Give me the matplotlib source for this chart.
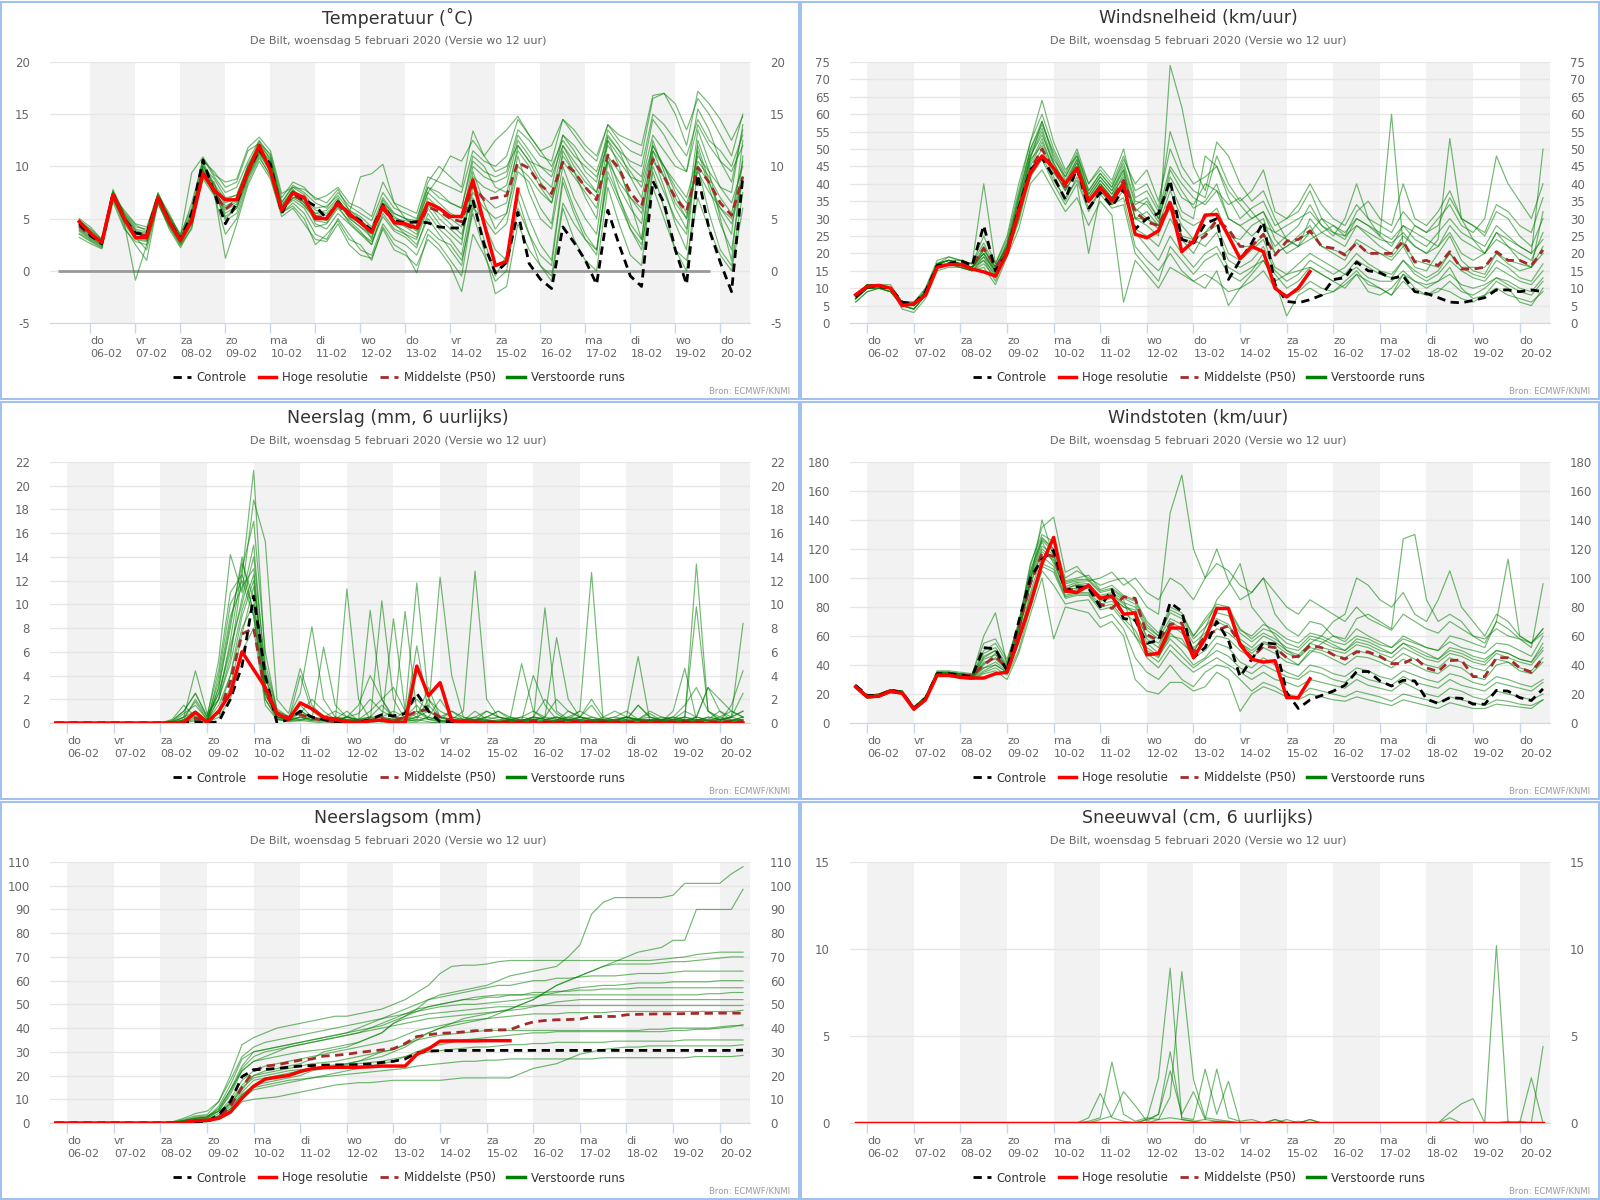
import numpy as np
import matplotlib.pyplot as plt
from matplotlib.lines import Line2D
from matplotlib.patches import Rectangle
from matplotlib.ticker import FormatStrFormatter

plt.rcParams['font.family'] = 'DejaVu Sans'
plt.rcParams['axes.unicode_minus'] = False

# tijdstappen (6 uurlijks) in dagen vanaf do 06-02 00 UTC, eerste stap 05-02 18 UTC
times = np.arange(60) * 0.25 - 0.25

day_names = ['do', 'vr', 'za', 'zo', 'ma', 'di', 'wo', 'do', 'vr', 'za', 'zo', 'ma', 'di', 'wo', 'do']
day_dates = ['06-02', '07-02', '08-02', '09-02', '10-02', '11-02', '12-02', '13-02',
             '14-02', '15-02', '16-02', '17-02', '18-02', '19-02', '20-02']

subtitle = 'De Bilt, woensdag 5 februari 2020 (Versie wo 12 uur)'
legend_labels = ['Controle', 'Hoge resolutie', 'Middelste (P50)', 'Verstoorde runs']

# ---------------- Temperatuur ----------------
temp_control = [4.5, 3.4, 2.6, 7.4,  5.0, 3.6, 3.5, 7.1,  4.8, 3.0, 5.5, 10.6,  7.5, 4.5, 6.5, 9.5,
                11.6, 10.2, 5.5, 7.6,  6.8, 6.2, 5.0, 6.6,  5.5, 4.8, 3.9, 6.3,  4.8, 4.6, 4.7, 4.6,
                4.2, 4.1, 4.1, 6.8,  2.5, -0.2, 0.8, 5.6,  0.7, -0.8, -1.7, 4.2,  2.7, 1.0, -1.3, 5.8,
                2.5, -0.5, -1.5, 8.6,  6.5, 2.0, -1.3, 9.2,  4.0, 0.8, -2.0, 9.0]
temp_hires = [4.7, 3.6, 2.7, 7.3,  5.0, 3.2, 3.2, 7.0,  4.7, 2.9, 4.8, 9.3,  7.7, 6.8, 6.8, 9.5,
              12.0, 9.6, 5.8, 7.5,  7.0, 5.0, 5.0, 6.5,  5.5, 4.6, 3.7, 6.2,  4.6, 4.5, 4.1, 6.5,
              6.0, 5.2, 5.2, 8.7,  4.5, 0.5, 0.9, 7.8]
temp_p50 = [4.3, 3.3, 2.8, 7.2,  5.0, 3.4, 3.4, 6.9,  4.8, 3.0, 5.0, 9.5,  7.5, 5.9, 6.8, 9.5,
            11.6, 9.8, 5.9, 7.2,  6.7, 5.2, 5.1, 6.3,  5.3, 4.7, 3.8, 5.9,  4.7, 4.4, 3.9, 6.1,
            5.7, 5.0, 4.7, 8.2,  6.8, 7.0, 7.2, 10.4,  9.8, 8.2, 7.4, 10.4,  9.5, 8.0, 6.8, 11.1,
            9.8, 7.5, 6.2, 10.7,  9.0, 7.0, 5.7, 9.9,  8.5, 6.5, 5.3, 9.0]
temp_members = [
    [4.2, 3.5, 2.8, 7.0,  5.2, 3.8, 3.6, 6.8,  4.6, 2.8, 5.2, 10.2,  8.0, 6.5, 7.0, 9.8,  11.8, 10.5, 6.2, 7.8,
     6.5, 5.5, 5.8, 7.0,  5.0, 4.2, 3.5, 6.8,  5.2, 4.5, 3.8, 7.0,  6.0, 5.0, 4.2, 9.0,  8.0, 7.5, 8.2, 12.5,
     11.0, 9.0, 8.0, 13.0,  11.5, 9.5, 8.5, 13.5,  12.0, 10.0, 9.0, 14.5,  13.0, 11.0, 9.5, 15.5,  13.5, 10.5, 8.5, 13.5],
    [3.8, 3.0, 2.4, 7.5,  4.5, 3.0, 2.8, 7.2,  5.0, 3.2, 4.5, 9.0,  8.5, 5.0, 6.0, 9.0,  11.2, 9.5, 5.8, 7.0,
     7.2, 4.5, 4.0, 5.5,  4.5, 3.5, 2.5, 5.5,  4.0, 3.5, 2.5, 5.0,  3.5, 2.0, 0.5, 6.5,  3.0, -0.5, 1.5, 7.0,
     3.5, 0.5, -1.0, 6.0,  3.0, 1.0, 0.0, 8.0,  4.5, 1.5, 0.5, 9.5,  6.0, 2.0, 0.0, 10.0,  5.5, 2.0, 0.5, 7.5],
    [5.0, 4.2, 3.0, 7.8,  5.5, 4.2, 4.0, 7.5,  5.2, 3.5, 6.0, 10.8,  9.0, 7.5, 8.0, 10.5,  12.5, 11.0, 6.5, 8.2,
     7.5, 6.5, 6.0, 7.5,  6.2, 5.5, 4.8, 7.5,  6.0, 5.5, 5.0, 8.0,  7.5, 6.5, 6.0, 10.5,  9.5, 9.0, 9.5, 13.5,
     12.5, 11.0, 10.5, 14.5,  13.0, 11.5, 10.5, 14.0,  12.5, 11.5, 11.0, 16.5,  17.0, 15.0, 12.0, 17.2,  16.0, 14.5, 12.5, 14.8],
    [3.5, 2.8, 2.2, 6.8,  4.8, 3.2, 2.0, 6.5,  4.3, 2.5, 4.0, 9.5,  7.8, 4.8, 5.5, 8.8,  11.0, 9.0, 5.5, 6.5,
     5.5, 3.5, 3.0, 5.0,  3.5, 2.0, 1.5, 4.5,  3.0, 2.5, 1.5, 4.0,  3.0, 2.5, 1.0, 5.5,  2.0, -2.2, -1.5, 4.5,
     2.0, 0.5, -0.5, 6.5,  4.5, 3.0, 2.0, 9.0,  6.5, 4.0, 2.5, 8.0,  5.0, 2.0, 1.0, 7.0,  4.0, 1.5, 0.0, 6.0],
    [4.6, 3.8, 2.6, 7.2,  5.8, 4.5, 4.2, 7.3,  5.5, 3.3, 6.5, 10.5,  9.5, 8.0, 8.5, 11.5,  12.2, 11.2, 7.0, 8.5,
     8.0, 6.8, 7.2, 8.0,  6.5, 6.0, 5.2, 8.5,  6.5, 6.0, 5.5, 9.0,  8.5, 8.0, 7.5, 11.5,  10.5, 10.0, 11.0, 14.5,
     13.0, 11.5, 10.0, 12.5,  11.0, 10.0, 9.0, 12.0,  10.5, 9.0, 8.5, 13.0,  11.5, 10.0, 9.5, 14.0,  12.0, 10.5, 9.5, 12.0],
    [4.0, 3.2, 2.5, 7.0,  4.2, 2.5, 1.0, 6.6,  4.0, 2.2, 4.2, 8.8,  7.2, 3.5, 5.0, 8.5,  10.8, 9.2, 5.6, 6.2,
     5.0, 2.5, 3.5, 4.8,  3.0, 2.5, 1.0, 4.2,  2.5, 1.8, -0.2, 3.5,  2.5, 1.0, -0.5, 6.0,  5.0, 3.5, 4.5, 9.5,
     8.5, 6.0, 4.5, 11.5,  9.5, 7.0, 5.0, 12.5,  10.0, 6.5, 3.0, 11.0,  8.0, 4.5, 2.0, 12.5,  9.5, 5.0, 1.0, 11.0],
    [4.4, 3.6, 2.9, 7.6,  5.3, 3.9, 3.3, 7.4,  5.0, 3.0, 5.8, 10.0,  8.2, 6.2, 6.8, 10.2,  12.0, 10.8, 6.0, 7.5,
     6.2, 5.2, 4.8, 6.8,  5.5, 9.0, 9.3, 10.2,  6.5, 5.0, 4.5, 7.5,  9.0, 11.0, 10.5, 12.5,  11.0, 12.5, 13.5, 14.8,
     13.0, 11.5, 12.0, 14.5,  13.5, 12.0, 11.0, 14.0,  13.0, 12.5, 12.0, 16.8,  17.0, 16.0, 13.5, 16.5,  15.0, 13.0, 11.0, 15.0],
    [3.2, 2.6, 2.1, 6.6,  4.0, 2.8, 2.5, 6.4,  4.2, 2.4, 4.5, 9.0,  7.5, 1.2, 4.5, 8.2,  10.5, 8.8, 5.2, 6.0,
     4.5, 3.0, 2.8, 4.5,  2.5, 1.5, 1.2, 4.0,  2.0, 1.5, 0.5, 3.0,  2.0, 0.5, -2.0, 3.5,  1.5, -1.0, 0.0, 6.0,
     3.5, 1.5, 0.5, 8.5,  5.5, 3.0, 1.5, 10.5,  7.0, 4.0, 2.0, 10.0,  7.5, 5.0, 3.5, 11.5,  8.0, 4.5, 2.0, 9.0],
    [4.8, 4.0, 3.0, 7.4,  5.6, 4.4, 3.8, 7.0,  5.3, 3.4, 9.4, 10.9,  9.2, 8.5, 8.8, 11.8,  12.8, 11.5, 7.4, 8.0,
     7.8, 7.0, 6.5, 7.8,  5.8, 5.0, 3.0, 6.5,  5.5, 5.0, 4.8, 8.5,  10.0, 9.0, 8.0, 13.4,  11.0, 9.5, 10.0, 12.0,
     10.5, 10.0, 9.5, 13.0,  12.0, 10.5, 9.5, 12.8,  11.5, 10.5, 10.0, 15.0,  14.0, 12.5, 11.0, 14.5,  12.5, 11.5, 10.0, 13.0],
    [3.6, 2.9, 2.3, 6.9,  4.6, -0.9, 2.5, 6.9,  4.4, 2.6, 4.8, 9.8,  7.9, 5.5, 6.2, 9.2,  11.5, 9.8, 5.8, 6.8,
     6.0, 4.2, 4.5, 6.0,  4.8, 3.8, 2.5, 6.0,  4.5, 3.5, 3.0, 6.0,  4.5, 3.5, 2.5, 9.5,  6.5, 4.0, 5.5, 11.0,
     7.5, 5.0, 4.0, 10.0,  7.0, 5.0, 3.5, 11.0,  8.0, 6.0, 4.5, 12.5,  9.5, 6.5, 5.0, 13.5,  10.5, 8.0, 7.5, 14.0],
    [4.3, 3.4, 2.7, 7.2,  5.0, 3.5, 3.4, 7.0,  4.7, 2.9, 5.0, 9.6,  7.6, 6.0, 6.6, 9.4,  11.4, 10.0, 6.0, 7.3,
     6.6, 5.5, 5.3, 6.5,  5.2, 4.5, 3.6, 6.0,  4.8, 4.2, 3.5, 6.2,  5.5, 4.5, 3.5, 7.5,  6.0, 5.0, 5.5, 10.0,
     9.0, 7.5, 6.5, 10.5,  9.0, 7.5, 6.0, 11.0,  9.5, 7.0, 5.5, 10.5,  9.0, 7.0, 5.0, 10.0,  8.5, 6.0, 4.5, 8.5],
    [4.9, 3.9, 2.9, 7.6,  5.4, 4.0, 3.7, 7.2,  5.1, 3.2, 5.5, 10.0,  8.8, 7.0, 7.2, 10.0,  12.4, 10.6, 6.6, 8.0,
     7.3, 6.0, 6.2, 7.2,  5.8, 5.2, 4.2, 7.0,  5.5, 5.0, 4.2, 7.5,  6.5, 5.5, 5.0, 10.0,  9.0, 8.5, 9.0, 13.0,
     11.5, 10.0, 9.0, 12.0,  10.0, 8.5, 7.5, 12.5,  11.0, 9.5, 8.0, 12.0,  10.0, 8.5, 7.0, 11.0,  9.5, 8.0, 6.5, 10.0],
    [3.9, 3.1, 2.5, 7.1,  4.7, 3.3, 3.0, 6.7,  4.5, 2.7, 4.6, 9.2,  7.4, 5.2, 6.0, 9.0,  11.3, 9.6, 5.7, 7.0,
     6.3, 4.8, 4.6, 6.2,  4.6, 3.6, 2.8, 5.2,  3.8, 3.2, 2.2, 5.5,  4.0, 3.0, 1.5, 7.0,  4.5, 2.0, 1.0, 8.0,
     5.0, 2.5, 1.0, 9.0,  6.0, 3.5, 2.0, 9.5,  7.0, 4.5, 3.0, 11.5,  9.0, 6.0, 4.0, 12.0,  8.5, 5.5, 3.5, 12.5],
    [4.5, 3.7, 2.8, 7.3,  5.1, 3.6, 3.5, 7.1,  4.9, 3.1, 5.3, 10.4,  8.3, 6.8, 7.3, 10.0,  11.9, 10.3, 6.3, 7.7,
     6.9, 5.8, 5.5, 6.8,  5.4, 4.8, 4.0, 6.5,  5.0, 4.8, 4.5, 8.0,  7.0, 6.5, 6.0, 11.0,  10.0, 8.0, 7.5, 11.5,
     10.0, 8.0, 6.5, 11.0,  9.5, 8.0, 7.0, 10.5,  8.5, 7.0, 6.0, 11.5,  10.0, 8.0, 6.5, 9.5,  7.5, 6.0, 5.0, 9.0],
    [4.1, 3.3, 2.6, 7.0,  4.9, 3.1, 2.9, 6.8,  4.6, 2.8, 4.9, 9.7,  7.6, 5.8, 6.4, 9.3,  11.6, 10.0, 6.1, 7.4,
     6.5, 5.0, 4.9, 6.4,  5.1, 4.2, 3.2, 6.4,  4.4, 3.8, 3.2, 6.5,  5.0, 4.0, 3.0, 8.0,  7.0, 6.0, 6.5, 12.0,
     10.5, 8.5, 7.0, 12.0,  10.5, 9.0, 7.5, 13.0,  11.5, 9.0, 7.0, 12.0,  10.0, 7.5, 5.5, 10.5,  9.0, 7.0, 5.5, 10.5],
]
temp_zero_line = (-0.73, 13.77)

# ---------------- Windsnelheid ----------------
wind_control = [7.5, 10.3, 10.5, 10.0,  6.0, 5.5, 9.0, 16.5,  17.0, 18.0, 16.5, 28.0,  15.0, 20.0, 33.0, 44.0,
                47.5, 42.0, 35.5, 44.5,  33.0, 37.5, 33.5, 38.5,  27.0, 30.0, 31.5, 41.0,  24.0, 23.0, 28.5, 30.0,
                12.5, 18.0, 23.0, 29.0,  11.0, 6.2, 5.8, 6.7,  8.0, 12.5, 13.0, 17.5,  15.0, 14.5, 12.8, 13.5,
                9.0, 8.5, 7.3, 6.0,  5.8, 6.5, 7.3, 9.5,  9.5, 9.0, 9.5, 9.0]
wind_hires = [8.1, 10.5, 10.8, 10.0,  5.0, 5.5, 8.0, 16.0,  16.8, 16.8, 15.5, 14.7,  13.5, 20.0, 32.0, 43.0,
              48.0, 44.5, 40.0, 44.5,  35.0, 39.0, 35.0, 40.0,  25.5, 24.5, 26.5, 34.5,  20.5, 23.5, 31.0, 31.2,
              25.0, 18.5, 22.0, 20.5,  10.0, 7.5, 10.0, 14.8]
wind_p50 = [7.5, 10.3, 10.6, 10.0,  5.8, 5.5, 8.5, 16.3,  17.0, 17.5, 16.5, 21.5,  16.0, 21.0, 33.0, 44.0,
            50.0, 44.0, 39.0, 44.0,  35.0, 38.5, 35.5, 41.0,  32.0, 29.0, 28.0, 35.0,  24.0, 23.0, 25.0, 29.5,
            27.0, 22.0, 22.0, 25.5,  19.5, 23.5, 24.0, 26.5,  22.0, 21.5, 19.5, 23.0,  20.0, 20.0, 20.0, 23.5,
            17.5, 18.0, 16.5, 20.5,  15.5, 15.5, 16.0, 20.5,  18.0, 18.0, 16.5, 21.0]
wind_members = [
    [7, 10, 11, 10,  6, 5, 9, 17,  18, 17, 16, 22,  15, 22, 35, 48,  55, 45, 40, 46,  36, 41, 37, 42,  30, 30, 28, 38,
     30, 28, 30, 33,  25, 24, 28, 30,  20, 22, 25, 28,  22, 20, 18, 24,  22, 20, 18, 22,  16, 15, 20, 25,  18, 15, 14, 20,
     17, 15, 16, 22],
    [8, 11, 10, 9,  5, 4, 8, 16,  17, 17, 16, 18,  14, 20, 30, 44,  50, 42, 35, 42,  33, 38, 34, 36,  22, 18, 15, 20,
     15, 12, 14, 12,  9, 10, 12, 15,  10, 8, 9, 12,  10, 9, 12, 15,  11, 10, 8, 12,  9, 8, 10, 9,  7, 6, 8, 10,
     8, 7, 6, 9],
    [7, 10, 11, 11,  6, 6, 10, 18,  19, 18, 17, 25,  17, 24, 38, 52,  60, 50, 43, 50,  40, 44, 40, 48,  38, 40, 33, 55,
     45, 40, 42, 45,  36, 30, 33, 35,  28, 30, 32, 38,  30, 26, 24, 30,  28, 25, 22, 28,  24, 22, 26, 30,  26, 24, 22, 28,
     25, 22, 20, 50],
    [6, 9, 10, 10,  4, 3, 7, 15,  16, 16, 15, 16,  11, 19, 27, 40,  44, 38, 32, 36,  28, 35, 31, 6,  18, 14, 10, 16,
     14, 12, 10, 15,  5, 10, 14, 18,  12, 2, 8, 10,  8, 9, 11, 14,  9, 8, 10, 14,  12, 10, 12, 16,  10, 7, 8, 12,
     10, 6, 5, 10],
    [8, 11, 11, 10,  6, 5, 9, 17,  18, 17, 16, 20,  15, 23, 33, 47,  58, 48, 41, 47,  37, 42, 38, 44,  30, 28, 25, 74,
     62, 45, 38, 52,  48, 40, 35, 38,  30, 24, 22, 26,  30, 28, 25, 32,  35, 30, 28, 40,  30, 28, 32, 38,  30, 28, 25, 32,
     30, 25, 22, 30],
    [7, 10, 10, 9,  5, 4, 8, 16,  17, 16, 15, 19,  13, 21, 31, 45,  52, 44, 38, 44,  35, 40, 36, 40,  27, 25, 22, 30,
     24, 20, 26, 28,  20, 18, 21, 24,  16, 14, 17, 20,  18, 16, 14, 18,  16, 14, 13, 18,  14, 12, 14, 18,  15, 13, 12, 16,
     14, 12, 11, 15],
    [7, 11, 11, 10,  6, 5, 9, 17,  18, 17, 16, 21,  16, 22, 36, 49,  56, 46, 40, 46,  37, 42, 38, 45,  34, 36, 30, 40,
     32, 30, 48, 45,  38, 34, 30, 32,  24, 20, 22, 30,  26, 24, 22, 28,  25, 22, 20, 25,  22, 20, 24, 53,  30, 24, 20, 26,
     22, 18, 16, 32],
    [6, 9, 10, 9,  5, 4, 8, 16,  17, 16, 15, 18,  12, 20, 29, 42,  47, 40, 34, 40,  20, 37, 33, 34,  20, 16, 12, 22,
     18, 14, 18, 20,  14, 12, 15, 20,  14, 10, 12, 16,  14, 12, 10, 14,  12, 10, 8, 14,  10, 8, 9, 12,  9, 8, 10, 13,
     11, 9, 8, 12],
    [8, 11, 11, 10,  6, 5, 10, 17,  19, 18, 17, 40,  17, 25, 40, 52,  64, 52, 44, 48,  40, 45, 41, 50,  36, 38, 32, 45,
     40, 36, 34, 38,  30, 28, 25, 28,  22, 25, 28, 34,  28, 25, 30, 40,  30, 25, 60, 22,  28, 26, 30, 34,  28, 26, 30, 48,
     40, 35, 30, 40],
    [7, 10, 10, 10,  6, 5, 9, 17,  18, 17, 16, 20,  14, 21, 33, 46,  53, 44, 38, 44,  35, 40, 36, 43,  30, 32, 28, 35,
     28, 24, 22, 26,  18, 16, 18, 22,  15, 12, 14, 18,  16, 14, 16, 20,  17, 15, 14, 18,  15, 13, 15, 20,  16, 14, 13, 18,
     16, 13, 12, 17],
    [7, 10, 11, 10,  5, 5, 8, 17,  17, 17, 16, 20,  15, 21, 34, 47,  51, 43, 39, 45,  35, 40, 36, 41,  33, 30, 27, 33,
     25, 24, 26, 30,  26, 22, 22, 25,  20, 22, 24, 26,  22, 21, 20, 23,  20, 20, 19, 23,  18, 17, 16, 20,  16, 16, 16, 20,
     18, 17, 16, 20],
    [8, 11, 11, 10,  6, 6, 9, 17,  18, 17, 16, 19,  15, 22, 36, 50,  57, 49, 42, 49,  38, 43, 39, 46,  35, 34, 29, 44,
     38, 33, 35, 40,  30, 28, 30, 32,  26, 28, 30, 32,  28, 26, 25, 28,  26, 24, 23, 26,  22, 20, 22, 26,  20, 18, 20, 24,
     22, 20, 18, 26],
    [7, 10, 10, 9,  5, 4, 8, 16,  17, 16, 15, 17,  13, 20, 30, 43,  48, 41, 36, 41,  32, 38, 34, 38,  26, 22, 18, 25,
     20, 16, 20, 22,  16, 14, 16, 18,  12, 14, 15, 16,  14, 12, 14, 16,  13, 12, 12, 15,  12, 11, 12, 14,  11, 10, 11, 13,
     12, 10, 9, 13],
    [7, 10, 11, 10,  6, 5, 9, 17,  18, 17, 16, 21,  16, 22, 34, 48,  54, 46, 40, 47,  36, 41, 37, 44,  32, 35, 30, 42,
     36, 34, 40, 38,  34, 36, 32, 28,  26, 24, 22, 24,  26, 28, 26, 30,  28, 26, 24, 28,  26, 24, 22, 28,  24, 22, 20, 26,
     24, 22, 20, 24],
    [8, 11, 11, 10,  6, 5, 9, 17,  18, 18, 17, 23,  16, 23, 37, 50,  58, 47, 42, 48,  38, 43, 39, 47,  40, 44, 35, 50,
     42, 38, 36, 48,  40, 35, 38, 44,  32, 30, 34, 40,  34, 30, 28, 34,  30, 28, 26, 32,  28, 26, 28, 36,  30, 28, 26, 34,
     32, 28, 26, 36],
]

# ---------------- Neerslag (6 uurlijks) ----------------
prec_control = [0, 0, 0, 0,  0, 0, 0, 0,  0, 0, 0, 0,  0.1, 0, 0.1, 2.0,  4.8, 10.7, 4.0, 0.0,
                0.3, 1.0, 0.5, 0.3,  0.1, 0.05, 0.05, 0.3,  0.7, 0.6, 0.8, 2.5,  1.0, 0.1, 0.1, 0.05,
                0, 0.05, 0, 0,  0, 0, 0.05, 0,  0, 0, 0, 0.05,  0, 0, 0, 0,  0, 0, 0.05, 0,  0, 0, 0, 0]
prec_hires = [0, 0, 0, 0,  0, 0, 0, 0,  0, 0, 0, 0.05,  0.9, 0.05, 1.0, 2.5,  6.0, 4.5, 3.0, 0.8,
              0.3, 1.7, 1.2, 0.5,  0.3, 0.1, 0, 0.2,  0.25, 0.05, 0.05, 4.8,  2.3, 3.4, 0.2, 0.1,
              0.05, 0, 0, 0,  0, 0, 0, 0,  0, 0, 0, 0,  0, 0, 0, 0,  0, 0, 0, 0,  0, 0, 0, 0]
prec_p50 = [0, 0, 0, 0,  0, 0, 0, 0,  0, 0, 0, 0.05,  0.4, 0.1, 0.8, 3.5,  7.5, 8.0, 2.5, 0.8,
            0.5, 0.7, 0.4, 0.2,  0.1, 0.1, 0.1, 0.2,  0.3, 0.2, 0.5, 1.0,  1.1, 0.5, 0.2, 0.1,
            0.1, 0.1, 0.1, 0.1,  0.1, 0.2, 0.1, 0.1,  0.1, 0.2, 0.1, 0.1,  0.1, 0.1, 0.1, 0.1,
            0.1, 0.1, 0.1, 0.1,  0.1, 0.1, 0.1, 0.1]
prec_members = [
    [0, 0, 0, 0,  0, 0, 0, 0,  0, 0, 0.3, 1.5,  0.5, 0.2, 3.0, 8.0,  14.0, 9.0, 2.0, 0.5,  0.3, 1.0, 0.5, 0.2,
     0.1, 11.3, 2.0, 0.3,  0.1, 0, 0.5, 1.5,  0.3, 0.1, 0, 0,  0.2, 0.5, 1.0, 0.3,  0, 0.5, 2.0, 0.8,
     0.2, 0.5, 1.5, 0.2,  0, 0, 0.3, 0.8,  0.2, 0, 0, 0.5,  3.0, 1.0, 0.2, 0.5],
    [0, 0, 0, 0,  0, 0, 0, 0,  0, 0, 0.1, 0.5,  4.4, 0.8, 2.0, 5.5,  12.4, 21.3, 5.0, 1.2,  0.5, 2.5, 8.1, 2.0,
     0.5, 0.2, 0.1, 0.3,  0.5, 0.2, 0.1, 0.3,  0.1, 0, 0, 0.2,  1.0, 0.3, 0.1, 0,  0, 0.2, 9.7, 1.0,
     0.3, 0.5, 0.2, 0.1,  0, 0.3, 1.5, 0.5,  0.2, 0.1, 0.3, 13.4,  1.0, 0.2, 0.5, 1.0],
    [0, 0, 0, 0,  0, 0, 0, 0,  0, 0, 0.2, 1.0,  2.5, 0.5, 5.3, 14.2,  11.0, 18.8, 15.3, 2.0,  0.8, 4.6, 1.5, 0.5,
     0.3, 1.0, 0.2, 9.5,  2.0, 0.3, 0.2, 0.5,  1.0, 12.3, 4.0, 0.5,  0.2, 0.1, 0, 0.3,  0.5, 1.0, 0.5, 7.2,
     2.0, 0.5, 0.3, 0.2,  0.1, 0.5, 0.2, 0,  0, 0.3, 1.0, 0.5,  0.2, 0.1, 1.5, 4.4],
    [0, 0, 0, 0,  0, 0, 0, 0,  0, 0, 0, 0.2,  1.0, 0.2, 1.5, 4.0,  9.0, 12.0, 3.0, 0.3,  0.2, 0.5, 0.3, 6.4,
     1.5, 0.5, 0.2, 0.1,  10.3, 2.0, 0.3, 0.1,  0.5, 0.2, 0.3, 1.0,  12.8, 2.0, 0.5, 0.2,  0.1, 0, 0, 0.3,
     0.5, 1.0, 12.7, 0.2,  0.1, 0, 0, 0.2,  0.3, 0.5, 0.2, 0.1,  0, 0, 0.2, 0.3],
    [0, 0, 0, 0,  0, 0, 0, 0,  0, 0, 0, 0.5,  1.8, 0.3, 2.5, 6.0,  10.5, 15.0, 4.0, 0.8,  0.3, 0.5, 0.2, 0.1,
     0.5, 0.3, 0.1, 0,  0.2, 8.8, 1.0, 11.8,  2.0, 0.5, 0.2, 0.1,  0.1, 0, 0.1, 0.3,  5.0, 1.0, 0.3, 0.5,
     0.2, 0.1, 0.1, 0.2,  0.3, 0.5, 5.6, 0.2,  0.1, 1.0, 4.6, 0.3,  0.2, 0.3, 0.5, 0.2],
    [0, 0, 0, 0,  0, 0, 0, 0,  0, 0, 0, 0,  0.5, 0.1, 1.0, 4.0,  8.0, 10.0, 2.5, 0.5,  0.2, 0.3, 0.5, 0.2,
     0.1, 0.5, 0.3, 0.2,  0.1, 0.5, 9.4, 1.0,  0.3, 0.2, 0.1, 0.1,  0, 0, 0.2, 0.5,  0.3, 0.2, 0.1, 0.2,
     0.5, 0.3, 0.2, 0.3,  0.2, 0.5, 0.3, 0.2,  0.3, 0.2, 0.5, 9.8,  1.0, 0.3, 0.5, 8.4],
    [0, 0, 0, 0,  0, 0, 0, 0,  0, 0, 0, 0.1,  0.3, 0, 0.5, 2.0,  6.0, 8.0, 1.5, 0.3,  0.1, 0.2, 0.1, 0,
     0, 0, 0, 0.1,  0.2, 0.3, 0.1, 0,  0, 0.1, 0.2, 0.1,  0, 0, 0.1, 0.2,  0.1, 0, 0, 0.1,
     0, 0.2, 0.1, 0,  0, 0.1, 0, 0,  0, 0.1, 0.2, 0.1,  0, 0.1, 0, 0.2],
    [0, 0, 0, 0,  0, 0, 0, 0,  0, 0, 0, 0.3,  1.0, 0.2, 2.0, 7.0,  13.0, 17.0, 6.0, 1.0,  0.5, 0.3, 0.2, 0.5,
     1.0, 0.5, 0.2, 0.3,  0.5, 1.0, 0.5, 0.3,  2.0, 1.0, 0.5, 0.3,  0.2, 1.0, 0.5, 0.3,  0.5, 0.3, 0.2, 0.5,
     0.3, 0.2, 0.1, 0.5,  1.0, 0.5, 0.3, 0.2,  0.5, 0.3, 0.2, 0.5,  3.0, 2.0, 1.0, 0.5],
    [0, 0, 0, 0,  0, 0, 0, 0,  0, 0, 0, 0.2,  0.8, 0.1, 4.0, 10.0,  12.0, 9.0, 2.0, 0.3,  0.2, 4.0, 1.0, 0.3,
     0.2, 0.5, 1.5, 4.0,  2.0, 0.5, 0.3, 0.2,  0.5, 2.0, 0.5, 0.3,  0.2, 0.5, 1.0, 0.5,  0.2, 4.0, 1.5, 0.3,
     0.2, 0.5, 2.0, 0.5,  0.2, 0.3, 1.5, 0.5,  0.2, 0.5, 1.5, 3.0,  1.0, 0.5, 1.0, 0.5],
    [0, 0, 0, 0,  0, 0, 0, 0,  0, 0, 0, 0,  0.2, 0, 0.8, 3.0,  7.5, 11.5, 4.0, 0.5,  0.3, 0.2, 0.5, 0.3,
     0.2, 0.1, 0.3, 0.5,  0.2, 0.1, 0.5, 6.5,  1.0, 0.3, 1.0, 0.5,  0.3, 0.2, 0.1, 0,  0.2, 0.5, 0.3, 0.2,
     1.0, 0.5, 0.3, 0.2,  0.2, 0.5, 0.3, 1.0,  0.5, 0.3, 0.2, 0.5,  0.3, 1.0, 0.5, 2.5],
    [0, 0, 0, 0,  0, 0, 0, 0,  0, 0, 0.1, 0.8,  1.5, 0.3, 3.5, 9.0,  11.5, 13.0, 3.0, 0.5,  0.5, 1.5, 0.5, 0.3,
     0.5, 0.3, 0.2, 0.5,  1.5, 0.5, 0.3, 0.5,  3.0, 0.5, 0.3, 0.2,  0.5, 0.2, 0.1, 0.3,  0.2, 0.5, 0.3, 0.2,
     0.3, 1.0, 0.5, 0.3,  0.5, 1.0, 0.3, 0.2,  0.3, 0.5, 0.3, 0.2,  0.5, 0.3, 0.2, 0.3],
    [0, 0, 0, 0,  0, 0, 0, 0,  0, 0, 0, 0.3,  2.0, 0.5, 2.5, 6.5,  10.0, 14.0, 4.5, 1.0,  0.5, 0.8, 2.0, 1.0,
     0.3, 0.5, 0.3, 1.0,  2.0, 3.0, 1.0, 0.5,  0.3, 0.5, 1.0, 0.3,  0.5, 1.0, 0.5, 0.3,  0.2, 0.3, 0.5, 2.0,
     1.0, 0.5, 0.3, 0.2,  0.3, 0.5, 0.2, 0.3,  0.2, 0.3, 0.5, 0.3,  0.2, 0.5, 0.3, 0.2],
    [0, 0, 0, 0,  0, 0, 0, 0,  0, 0, 0.1, 0.5,  1.0, 0.2, 2.0, 5.0,  9.5, 12.5, 2.5, 0.4,  0.2, 0.5, 0.3, 0.2,
     0.2, 0.3, 0.2, 0.1,  0.3, 0.2, 0.5, 1.0,  0.5, 0.2, 0.1, 0.2,  0.3, 0.2, 0.2, 0.1,  0.2, 0.3, 0.2, 0.1,
     0.3, 0.2, 0.1, 0.2,  0.1, 0.2, 0.3, 0.1,  0.2, 0.1, 0.2, 0.3,  0.2, 0.3, 0.2, 0.1],
    [0, 0, 0, 0,  0, 0, 0, 0,  0, 0, 0, 0.2,  0.6, 0.1, 3.0, 8.5,  13.5, 10.5, 3.0, 0.5,  0.3, 0.8, 0.5, 0.3,
     0.2, 0.5, 0.8, 2.0,  1.0, 0.5, 0.3, 0.8,  1.5, 0.5, 0.3, 0.2,  0.3, 0.5, 0.3, 0.2,  0.3, 0.2, 0.5, 0.3,
     0.2, 0.3, 0.5, 0.2,  0.3, 0.2, 0.3, 0.5,  0.3, 0.2, 0.3, 0.2,  0.5, 0.3, 0.2, 0.5],
    [0, 0, 0, 0,  0, 0, 0, 0,  0, 0, 0.2, 1.0,  2.5, 0.6, 4.5, 11.0,  12.5, 9.5, 2.5, 0.5,  0.5, 1.0, 0.5, 0.2,
     0.2, 0.2, 0.3, 0.5,  0.5, 0.3, 1.0, 2.0,  1.0, 0.5, 0.2, 0.3,  0.2, 0.3, 0.5, 0.3,  0.2, 0.5, 0.3, 0.5,
     0.2, 0.3, 0.2, 0.3,  0.5, 0.3, 0.2, 0.3,  0.2, 0.3, 0.5, 0.2,  0.3, 0.2, 0.5, 1.0],
]

# ---------------- Windstoten ----------------
gust_control = [26, 19, 19, 22.5,  21, 10, 17, 34,  34, 33, 32, 52,  51, 36, 70, 100,  113, 119, 91, 94,
                93, 80, 92, 72,  71, 55, 57, 83,  77, 45, 52, 70,  57, 32, 44, 55.5,  54.5, 21, 10, 16,
                19, 22, 26, 35.5,  35.5, 29, 25.5, 29.5,  29, 16.5, 13.5, 17.5,  17, 13, 13, 22.5,  22, 17.5, 15.5, 23.5]
gust_hires = [25, 18, 18.5, 22,  20.5, 9.5, 16, 33,  33, 31.5, 31, 31,  34, 35, 58, 82,  110, 128, 91, 90,
              95, 86, 87.5, 75,  76, 47, 48, 65.5,  65.5, 45, 58, 79,  79, 54, 44, 42,  43, 17.5, 17.5, 30.5]
gust_p50 = [25, 18.5, 19, 22.5,  21, 10, 16.5, 33.5,  33.5, 33, 33, 40,  46, 38, 65, 96,  117, 115, 92, 92,
            94, 82, 79, 87,  86, 61, 57, 68,  69, 49, 60, 64,  67, 55, 45, 53,  52, 45, 46, 53.5,
            52, 47, 44, 49,  49, 46, 41, 41,  45, 38, 35.5, 43,  43.5, 32, 32, 45,  45, 38, 35, 45]
gust_members = [
    [25, 18, 19, 22,  21, 10, 17, 34,  34, 33, 32, 42,  44, 37, 62, 95,  118, 112, 90, 92,  93, 84, 86, 80,
     78, 58, 52, 70,  65, 50, 60, 72,  68, 55, 48, 55,  52, 45, 40, 50,  48, 44, 40, 46,  45, 42, 38, 44,
     40, 36, 34, 40,  38, 32, 30, 40,  42, 36, 34, 42],
    [24, 17, 18, 21,  20, 9, 16, 33,  33, 32, 31, 36,  40, 35, 55, 85,  108, 104, 86, 88,  88, 78, 80, 70,
     60, 45, 38, 50,  42, 35, 40, 45,  40, 35, 30, 35,  30, 28, 25, 30,  28, 26, 24, 30,  26, 24, 22, 28,
     24, 20, 18, 24,  22, 18, 16, 22,  20, 18, 16, 20],
    [26, 19, 20, 23,  22, 11, 18, 35,  35, 34, 33, 60,  76, 40, 68, 110,  130, 125, 100, 105,  100, 95, 98, 100,
     92, 80, 75, 145,  171, 120, 100, 110,  105, 95, 90, 100,  90, 80, 75, 85,  80, 75, 70, 80,  72, 68, 64, 75,
     70, 65, 62, 70,  65, 60, 58, 65,  60, 58, 55, 62],
    [25, 18, 19, 22,  21, 10, 17, 33,  33, 32, 31, 40,  48, 36, 60, 100,  125, 110, 92, 96,  94, 88, 90, 85,
     60, 50, 45, 62,  55, 48, 65, 85,  95, 110, 80, 70,  60, 50, 45, 55,  60, 70, 75, 100,  95, 85, 80, 90,
     75, 70, 85, 105,  80, 70, 60, 75,  70, 60, 55, 65],
    [24, 18, 18, 21,  20, 9, 16, 32,  32, 31, 30, 35,  38, 33, 50, 80,  105, 95, 82, 84,  85, 72, 75, 65,
     45, 35, 30, 40,  30, 25, 35, 40,  38, 30, 22, 28,  25, 20, 18, 24,  22, 20, 18, 22,  20, 18, 15, 20,
     18, 16, 14, 18,  16, 14, 12, 16,  15, 13, 12, 16],
    [26, 19, 19, 23,  22, 11, 18, 35,  35, 34, 33, 50,  55, 42, 70, 105,  128, 120, 98, 100,  102, 92, 95, 88,
     85, 70, 62, 80,  76, 60, 72, 82,  80, 65, 58, 65,  62, 55, 52, 60,  58, 54, 50, 58,  56, 52, 48, 55,
     52, 48, 44, 52,  50, 46, 44, 50,  48, 44, 42, 55],
    [25, 19, 19, 22,  21, 10, 17, 34,  34, 33, 32, 45,  50, 38, 65, 98,  140, 115, 94, 97,  96, 86, 88, 82,
     75, 55, 48, 60,  58, 45, 50, 60,  58, 50, 45, 52,  48, 42, 40, 48,  55, 60, 58, 72,  75, 70, 65, 127,
     130, 85, 70, 75,  70, 60, 55, 70,  65, 58, 52, 96],
    [24, 17, 18, 21,  20, 9, 15, 32,  32, 31, 30, 34,  36, 30, 48, 75,  100, 58, 80, 78,  76, 66, 70, 60,
     30, 22, 20, 28,  28, 22, 25, 35,  30, 8, 20, 25,  22, 18, 16, 20,  18, 16, 15, 18,  16, 14, 12, 16,
     14, 12, 10, 14,  12, 10, 10, 13,  12, 11, 10, 16],
    [26, 19, 20, 23,  22, 11, 18, 36,  36, 35, 34, 55,  58, 44, 68, 108,  135, 142, 104, 108,  98, 100, 104, 95,
     100, 90, 85, 100,  95, 85, 100, 120,  98, 85, 90, 100,  75, 65, 60, 70,  68, 60, 56, 65,  60, 56, 52, 60,
     56, 52, 50, 60,  58, 55, 52, 70,  113, 60, 55, 65],
    [25, 18, 19, 22,  21, 10, 17, 34,  34, 33, 32, 38,  42, 36, 58, 90,  115, 108, 88, 90,  90, 82, 84, 76,
     70, 52, 46, 58,  50, 40, 45, 55,  52, 42, 38, 45,  40, 35, 32, 40,  38, 34, 32, 38,  36, 32, 30, 36,
     33, 30, 28, 34,  32, 28, 26, 32,  30, 27, 25, 30],
    [25, 18, 19, 22,  21, 10, 17, 34,  34, 33, 32, 41,  45, 37, 63, 96,  120, 113, 92, 93,  94, 85, 87, 80,
     76, 60, 55, 68,  62, 52, 58, 65,  62, 55, 50, 56,  54, 48, 45, 52,  50, 47, 45, 50,  48, 45, 42, 48,
     44, 40, 38, 45,  42, 38, 36, 44,  42, 38, 36, 45],
    [26, 19, 19, 23,  22, 11, 18, 35,  35, 34, 33, 48,  52, 40, 66, 102,  126, 118, 96, 98,  98, 90, 92, 86,
     82, 66, 60, 76,  72, 58, 66, 76,  74, 62, 56, 62,  58, 52, 50, 58,  56, 52, 50, 56,  54, 50, 48, 55,
     50, 46, 44, 50,  48, 44, 42, 50,  48, 44, 42, 52],
    [24, 18, 18, 21,  20, 9, 16, 33,  33, 32, 31, 38,  40, 35, 56, 88,  110, 106, 87, 89,  89, 80, 82, 72,
     64, 48, 42, 54,  46, 38, 44, 50,  46, 38, 34, 40,  36, 32, 30, 36,  34, 30, 28, 34,  30, 28, 26, 32,
     28, 26, 24, 30,  26, 24, 22, 28,  26, 24, 22, 28],
    [25, 19, 19, 22,  21, 10, 17, 34,  34, 33, 32, 44,  47, 38, 64, 99,  122, 116, 93, 95,  95, 87, 89, 83,
     80, 64, 58, 72,  68, 55, 62, 70,  66, 58, 52, 60,  56, 50, 47, 55,  52, 50, 48, 54,  52, 48, 45, 52,
     48, 44, 42, 48,  46, 42, 40, 48,  45, 42, 40, 50],
    [26, 19, 20, 23,  22, 11, 18, 35,  35, 34, 33, 46,  50, 39, 67, 104,  127, 120, 97, 99,  99, 91, 93, 87,
     84, 68, 60, 78,  74, 60, 70, 80,  78, 64, 60, 68,  64, 58, 55, 62,  60, 56, 54, 60,  58, 54, 52, 58,
     55, 52, 50, 56,  52, 50, 48, 55,  54, 50, 46, 60],
]

# ---------------- Neerslagsom ----------------
psum_control = [0, 0, 0, 0,  0, 0, 0, 0,  0, 0, 0, 0,  0.5, 0.6, 3.5, 9.0,  19.5, 22.5, 22.6, 23.0,
                23.5, 24.0, 24.2, 24.4,  24.5, 24.5, 24.6, 24.9,  25.5, 26.0, 27.0, 29.5,  30.3, 30.5, 30.5, 30.6,
                30.6, 30.6, 30.6, 30.6,  30.6, 30.6, 30.6, 30.6,  30.6, 30.6, 30.6, 30.6,  30.6, 30.6, 30.6, 30.6,
                30.6, 30.6, 30.6, 30.6,  30.6, 30.6, 30.6, 30.7]
psum_hires = [0, 0, 0, 0,  0, 0, 0, 0,  0, 0, 0, 0.1,  1.0, 1.1, 2.0, 4.6,  10.5, 15.5, 18.5, 19.3,
              20.0, 21.7, 22.9, 23.3,  23.5, 23.5, 23.5, 23.7,  24.0, 24.0, 24.0, 28.9,  31.2, 34.5, 34.6, 34.6,
              34.6, 34.7, 34.7, 34.7]
psum_p50 = [0, 0, 0, 0,  0, 0, 0, 0,  0, 0, 0, 0.2,  0.5, 0.8, 2.5, 7.0,  15.0, 22.0, 24.0, 24.5,
            25.5, 26.5, 27.0, 28.2,  28.5, 29.0, 29.7, 30.3,  30.8, 31.3, 33.5, 36.4,  37.2, 37.8, 38.0, 38.4,
            38.9, 39.0, 39.2, 39.3,  41.2, 42.6, 43.2, 43.5,  43.6, 43.8, 44.8, 44.9,  44.9, 45.6, 45.8, 45.9,
            46.0, 46.0, 46.1, 46.2,  46.2, 46.3, 46.3, 46.3]
psum_members = [
    [0, 0, 0, 0,  0, 0, 0, 0,  0, 0, 0.2, 1,  2.5, 3, 5, 8,  14, 20, 22, 23,  24, 25, 27, 30,  31, 32, 34, 36,
     38, 42, 45, 48,  52, 54, 55, 56,  57, 58, 60, 62,  63, 64, 65, 66,  70, 75, 88, 93,  95, 95, 95, 95,
     95, 96, 101, 101,  101, 101, 105, 108],
    [0, 0, 0, 0,  0, 0, 0, 0,  0, 0, 0, 0.5,  1, 1.2, 3, 7,  13, 18, 19, 20,  21, 22, 23, 24,  24.5, 25, 26, 28,
     30, 31, 33, 36,  38, 40, 41, 42,  43, 44, 46, 48,  50, 52, 55, 58,  60, 62, 64, 66,  68, 70, 72, 73,
     74, 77, 77, 90,  90, 90, 90, 98.5],
    [0, 0, 0, 0,  0, 0, 0, 0,  0, 0, 0.3, 1.5,  3, 3.5, 9, 20,  33, 36, 38, 40,  41, 42, 43, 44,  45, 45, 46, 47,
     48, 50, 52, 55,  58, 63, 66, 66.5,  66.5, 67, 68, 68.5,  68.5, 68.5, 68.5, 68.5,  68.5, 68.5, 68.5, 68.5,
     68.5, 68.5, 68.5, 68.5,  69, 69.5, 70, 71,  71.5, 72, 72, 72],
    [0, 0, 0, 0,  0, 0, 0, 0,  0, 0, 0, 0.3,  0.8, 1, 2.5, 6,  12, 16, 17, 18,  19, 20, 22, 23,  24, 25, 26, 27,
     28, 30, 32, 35,  38, 40, 42, 44,  45, 46, 47, 48,  50, 52, 55, 58,  60, 62, 64, 66,  67, 67, 67, 67,
     67.5, 68, 68, 68.5,  69, 69.5, 70, 70],
    [0, 0, 0, 0,  0, 0, 0, 0,  0, 0, 0.5, 2,  4, 5, 9, 18,  28, 32, 34, 35,  36, 37, 38, 39,  40, 41, 42, 43,
     44, 45, 46, 47,  48, 49, 49.5, 50,  50, 50.5, 51, 51.5,  52, 53, 54, 55,  56, 57, 57.5, 58,  58, 58.5, 59, 59,
     59, 59.5, 59.5, 59.5,  59.5, 60, 60, 60],
    [0, 0, 0, 0,  0, 0, 0, 0,  0, 0, 0, 0.5,  1.5, 2, 5, 12,  22, 26, 27, 28,  29, 30, 30.5, 31,  32, 33, 34, 36,
     38, 42, 44, 45,  46, 46.5, 47, 47.5,  48, 48.5, 49, 49,  49, 49.5, 49.5, 49.5,  49.5, 49.5, 49.5, 49.5,
     49.5, 49.5, 49.5, 49.5,  49.5, 49.5, 49.5, 49.5,  49.5, 49.5, 49.5, 49.5],
    [0, 0, 0, 0,  0, 0, 0, 0,  0, 0, 0, 0.2,  0.5, 0.8, 2, 5,  10, 14, 15, 16,  17, 18, 19, 20,  21, 22, 23, 24,
     25, 26, 28, 30,  32, 33, 34, 35,  35.5, 36, 36.5, 37,  37.5, 38, 38, 38.5,  38.5, 38.5, 38.5, 38.5,
     38.5, 38.5, 38.5, 38.5,  38.5, 39, 39, 39.5,  39.5, 40, 40.5, 41.5],
    [0, 0, 0, 0,  0, 0, 0, 0,  0, 0, 0, 0.1,  0.3, 0.5, 1.5, 4,  9, 10, 10.5, 11,  12, 13, 14, 15,  16, 16.5, 17, 17,
     17.5, 18, 18, 18,  18, 18, 18.5, 19,  19, 19, 19, 19,  21, 23, 24, 25,  27, 29, 30, 31,  31.5, 32, 32, 32.5,
     32.5, 32.5, 32.5, 32.5,  32.5, 32.5, 32.5, 33],
    [0, 0, 0, 0,  0, 0, 0, 0,  0, 0, 0, 0.2,  0.5, 0.6, 2, 6,  12, 15, 16, 17,  18, 18.5, 19, 19.5,  20, 20.5, 21, 21.5,
     22, 22.5, 23, 24,  24.5, 25, 25.5, 26,  26, 26.5, 26.5, 27,  27, 27, 27, 27,  27, 27, 27, 27.5,
     27.5, 27.5, 27.5, 27.5,  27.5, 27.5, 27.5, 28,  28, 28, 28, 28.5],
    [0, 0, 0, 0,  0, 0, 0, 0,  0, 0, 0.2, 1,  2, 2.5, 6, 14,  24, 30, 31, 32,  33, 34, 35, 36,  37, 38, 39, 40,
     41, 43, 45, 47,  49, 50, 51, 52,  53, 53.5, 54, 54,  54, 54, 54, 54,  54, 54, 54, 54,  54, 54, 54, 54,
     54, 54, 54, 54,  54.5, 54.5, 55, 55],
    [0, 0, 0, 0,  0, 0, 0, 0,  0, 0, 0.2, 1,  2, 2.5, 6, 14,  22, 26, 28, 30,  32, 33, 34, 35,  36, 37, 38, 40,
     42, 44, 46, 48,  49, 50, 51, 52,  52, 53, 53, 54,  54, 55, 55, 55.5,  55.5, 56, 56, 56.5,  56.5, 56.5, 57, 57,
     57, 57, 57, 57,  57, 57, 57, 57],
    [0, 0, 0, 0,  0, 0, 0, 0,  0, 0, 0.2, 1,  2, 2.5, 7, 16,  27, 30, 31, 32,  33, 34, 35, 36,  37, 38, 40, 42,
     44, 46, 48, 50,  52, 53, 54, 55,  56, 57, 58, 58,  59, 60, 60, 61,  61, 61.5, 62, 62,  62, 62.5, 63, 63,
     63, 63.5, 64, 64,  64, 64, 64, 64],
    [0, 0, 0, 0,  0, 0, 0, 0,  0, 0, 0, 0.5,  1, 1.5, 4, 10,  18, 22, 24, 25,  26, 27, 28, 29,  30, 31, 32, 33,
     34, 35, 37, 39,  40, 41, 42, 43,  43.5, 44, 44.5, 45,  45.5, 46, 46, 46,  46.5, 46.5, 46.5, 46.5,
     47, 47, 47, 47,  47, 47, 47, 47,  47, 47, 47, 47.5],
    [0, 0, 0, 0,  0, 0, 0, 0,  0, 0, 0, 0.3,  0.8, 1, 3, 8,  15, 19, 20, 21,  22, 22.5, 23, 23.5,  24, 24.5, 25, 25.5,
     26, 27, 28, 29,  30, 30.5, 31, 31.5,  32, 32, 32.5, 33,  33, 33.5, 33.5, 34,  34, 34, 34, 34,
     34.5, 34.5, 34.5, 34.5,  34.5, 34.5, 35, 35,  35, 35, 35, 35],
    [0, 0, 0, 0,  0, 0, 0, 0,  0, 0, 0, 0.5,  1.5, 2, 5, 13,  23, 28, 30, 31,  32, 33, 34, 35,  36, 37, 38, 39,
     40, 41, 42, 43,  44, 44.5, 45, 45.5,  46, 46.5, 47, 47.5,  48, 49, 50, 51,  51.5, 52, 52, 52,
     52, 52, 52, 52,  52, 52, 52, 52,  52, 52, 52, 52],
    [0, 0, 0, 0,  0, 0, 0, 0,  0, 0, 0, 0.3,  0.8, 1, 3, 9,  16, 20, 21, 22,  23, 24, 25, 25.5,  26, 27, 28, 29,
     30, 31, 33, 35,  36, 37, 37.5, 38,  38.5, 39, 39, 39,  39, 39, 39, 39,  39, 39, 39, 39,
     39, 39, 39, 39.5,  39.5, 40, 40, 40,  40, 40.5, 41, 41],
]

# ---------------- Sneeuwval (6 uurlijks) ----------------
snow_control = [0, 0, 0, 0,  0, 0, 0, 0,  0, 0, 0, 0,  0, 0, 0, 0,  0, 0, 0, 0,  0, 0, 0, 0,  0, 0, 0, 0,  0, 0, 0, 0,
                0, 0, 0, 0,  0, 0, 0, 0,  0, 0, 0, 0,  0, 0, 0, 0,  0, 0, 0, 0,  0, 0, 0, 0,  0, 0, 0, 0]
snow_hires = [0, 0, 0, 0,  0, 0, 0, 0,  0, 0, 0, 0,  0, 0, 0, 0,  0, 0, 0, 0,  0, 0, 0, 0,  0, 0, 0, 0,  0, 0, 0, 0,
              0, 0, 0, 0,  0, 0, 0, 0,  0, 0, 0, 0,  0, 0, 0, 0,  0, 0, 0, 0,  0, 0, 0, 0,  0, 0, 0, 0]
snow_p50 = [0, 0, 0, 0,  0, 0, 0, 0,  0, 0, 0, 0,  0, 0, 0, 0,  0, 0, 0, 0,  0, 0, 0, 0,  0, 0, 0, 0,  0, 0, 0, 0,
            0, 0, 0, 0,  0, 0, 0, 0,  0, 0, 0, 0,  0, 0, 0, 0,  0, 0, 0, 0,  0, 0, 0, 0,  0, 0, 0, 0]
snow_members = [
    [0, 0, 0, 0,  0, 0, 0, 0,  0, 0, 0, 0,  0, 0, 0, 0,  0, 0, 0, 0,  0.3, 1.7, 0.3, 0.1,  0, 0.2, 2.6, 8.9,
     0.2, 0.1, 0, 0.1,  0, 0, 0, 0,  0.2, 0, 0.1, 0,  0, 0, 0, 0,  0, 0, 0, 0,  0, 0, 0, 0,  0, 0, 0, 0,  0, 0, 0, 0],
    [0, 0, 0, 0,  0, 0, 0, 0,  0, 0, 0, 0,  0, 0, 0, 0,  0, 0, 0, 0,  0, 0, 0, 0,  0, 0, 0.2, 1.5,
     8.7, 2.5, 0.3, 0.2,  0.1, 0, 0, 0,  0, 0.2, 0, 0.2,  0, 0, 0, 0,  0, 0, 0, 0,  0, 0, 0, 0,  0, 0, 0, 0,  0, 0, 0, 0],
    [0, 0, 0, 0,  0, 0, 0, 0,  0, 0, 0, 0,  0, 0, 0, 0,  0, 0, 0, 0,  0.1, 0.3, 3.5, 0.5,  0.1, 0.3, 0.2, 0.3,
     0.2, 0.1, 0.2, 0.1,  0.1, 0, 0, 0,  0, 0, 0, 0,  0, 0, 0, 0,  0, 0, 0, 0,  0, 0, 0, 0,  0, 0, 0, 0,  0, 0, 0, 0],
    [0, 0, 0, 0,  0, 0, 0, 0,  0, 0, 0, 0,  0, 0, 0, 0,  0, 0, 0, 0,  0, 0.2, 0.4, 1.8,  1.0, 0.1, 0.5, 4.1,
     0.3, 0.2, 3.1, 0.5,  2.4, 0, 0, 0,  0, 0, 0, 0,  0, 0, 0, 0,  0, 0, 0, 0,  0, 0, 0, 0,  0, 0, 0, 0,  0, 0, 0, 0],
    [0, 0, 0, 0,  0, 0, 0, 0,  0, 0, 0, 0,  0, 0, 0, 0,  0, 0, 0, 0,  0, 0, 0, 0,  0, 0.2, 0.5, 3.0,
     0.5, 1.8, 0.2, 3.1,  0.3, 0.1, 0.2, 0,  0.2, 0, 0, 0.2,  0, 0, 0, 0,  0, 0, 0, 0,  0, 0, 0, 0,  0, 0, 0, 0,  0, 0, 0, 0],
    [0, 0, 0, 0,  0, 0, 0, 0,  0, 0, 0, 0,  0, 0, 0, 0,  0, 0, 0, 0,  0, 0, 0, 0,  0, 0, 0, 0,
     0, 0, 0, 0,  0, 0, 0, 0,  0, 0, 0, 0,  0, 0, 0, 0,  0, 0, 0, 0,  0, 0, 0, 0.6,  1.1, 1.4, 0, 10.2,  0, 0, 0, 0],
    [0, 0, 0, 0,  0, 0, 0, 0,  0, 0, 0, 0,  0, 0, 0, 0,  0, 0, 0, 0,  0, 0, 0, 0,  0, 0, 0, 0,
     0, 0, 0, 0,  0, 0, 0, 0,  0, 0, 0, 0,  0, 0, 0, 0,  0, 0, 0, 0,  0, 0, 0, 0.3,  0, 0, 0, 0,  0.1, 0, 2.6, 0],
    [0, 0, 0, 0,  0, 0, 0, 0,  0, 0, 0, 0,  0, 0, 0, 0,  0, 0, 0, 0,  0, 0, 0, 0,  0, 0, 0, 0,
     0, 0, 0, 0,  0, 0, 0, 0,  0, 0, 0, 0,  0, 0, 0, 0,  0, 0, 0, 0,  0, 0, 0, 0,  0, 0, 0, 0,  0, 0.1, 0, 4.4],
]

W, H = 1600, 1200
fig = plt.figure(figsize=(16, 12), dpi=100)

dash = (0, (3, 2))
handles = [Line2D([], [], color='black', lw=2, ls=dash),
           Line2D([], [], color='red', lw=2.5),
           Line2D([], [], color='#a52a2a', lw=2, ls=dash),
           Line2D([], [], color='green', lw=2.5)]


def draw_panel(col, row, title, ylim, ystep, xlim, control, hires, p50, members, zero_line=None):
    x0, y0 = 800 * col, 400 * row
    # paneelrand
    fig.add_artist(Rectangle(((x0 + 1) / W, 1 - (y0 + 399) / H), 798 / W, 397 / H,
                             transform=fig.transFigure, fill=False, ec='#a3c1f0', lw=1.5))
    fig.text((x0 + 398) / W, 1 - (y0 + 18) / H, title, ha='center', va='center',
             fontsize=12.5, color='#333333')
    fig.text((x0 + 398) / W, 1 - (y0 + 41) / H, subtitle, ha='center', va='center',
             fontsize=8, color='#666666')
    fig.text((x0 + 790) / W, 1 - (y0 + 391) / H, 'Bron: ECMWF/KNMI', ha='right', va='center',
             fontsize=6, color='#999999')

    ax = fig.add_axes([(x0 + 50) / W, 1 - (y0 + 323) / H, 700 / W, 261 / H])
    for d in range(0, 15, 2):
        ax.axvspan(d, d + 1, color='#f2f2f2', lw=0, zorder=0)
    if zero_line is not None:
        ax.hlines(0, zero_line[0], zero_line[1], color='#999999', lw=2, zorder=1.5)

    for m in members:
        ax.plot(times, m, color='green', lw=0.85, alpha=0.55, zorder=2)
    ax.plot(times, p50, color='#a52a2a', lw=2, ls=dash, zorder=3)
    ax.plot(times, control, color='black', lw=2, ls=dash, zorder=4)
    ax.plot(times[:len(hires)], hires, color='red', lw=2.5, zorder=5)

    ax.set_xlim(*xlim)
    ax.set_ylim(*ylim)
    yt = np.arange(ylim[0], ylim[1] + ystep / 2, ystep)
    ax.set_yticks(yt)
    ax.yaxis.set_major_formatter(FormatStrFormatter('%d'))
    ax.set_axisbelow(True)
    ax.yaxis.grid(True, color='#e6e6e6', lw=1)
    ax.tick_params(axis='y', left=False, right=False, labelleft=True, labelright=True,
                   pad=11, labelsize=8.5, labelcolor='#666666')

    ax.set_xticks(range(15))
    ax.set_xticklabels([n + '\n' + d for n, d in zip(day_names, day_dates)], ha='left',
                       multialignment='left', linespacing=1.45)
    ax.tick_params(axis='x', length=7, color='#ccd6eb', width=1, pad=2,
                   labelsize=8, labelcolor='#666666')
    for s in ['top', 'left', 'right']:
        ax.spines[s].set_visible(False)
    ax.spines['bottom'].set_color('#ccd6eb')

    ax.legend(handles, legend_labels, loc='center', ncol=4, frameon=False, fontsize=8.5,
              bbox_to_anchor=((x0 + 399) / W, 1 - (y0 + 378) / H), bbox_transform=fig.transFigure,
              handlelength=1.5, handletextpad=0.5, columnspacing=1.0, labelcolor='#333333')
    return ax


xl = (-0.37, 14.65)
draw_panel(0, 0, 'Temperatuur (˚C)', (-5, 20), 5, (-0.9, 14.66),
           temp_control, temp_hires, temp_p50, temp_members, zero_line=temp_zero_line)
draw_panel(1, 0, 'Windsnelheid (km/uur)', (0, 75), 5, xl,
           wind_control, wind_hires, wind_p50, wind_members)
draw_panel(0, 1, 'Neerslag (mm, 6 uurlijks)', (0, 22), 2, xl,
           prec_control, prec_hires, prec_p50, prec_members)
draw_panel(1, 1, 'Windstoten (km/uur)', (0, 180), 20, xl,
           gust_control, gust_hires, gust_p50, gust_members)
draw_panel(0, 2, 'Neerslagsom (mm)', (0, 110), 10, xl,
           psum_control, psum_hires, psum_p50, psum_members)
draw_panel(1, 2, 'Sneeuwval (cm, 6 uurlijks)', (0, 15), 5, xl,
           snow_control, snow_hires, snow_p50, snow_members)

fig.savefig('out.png', dpi=100, facecolor='white')
